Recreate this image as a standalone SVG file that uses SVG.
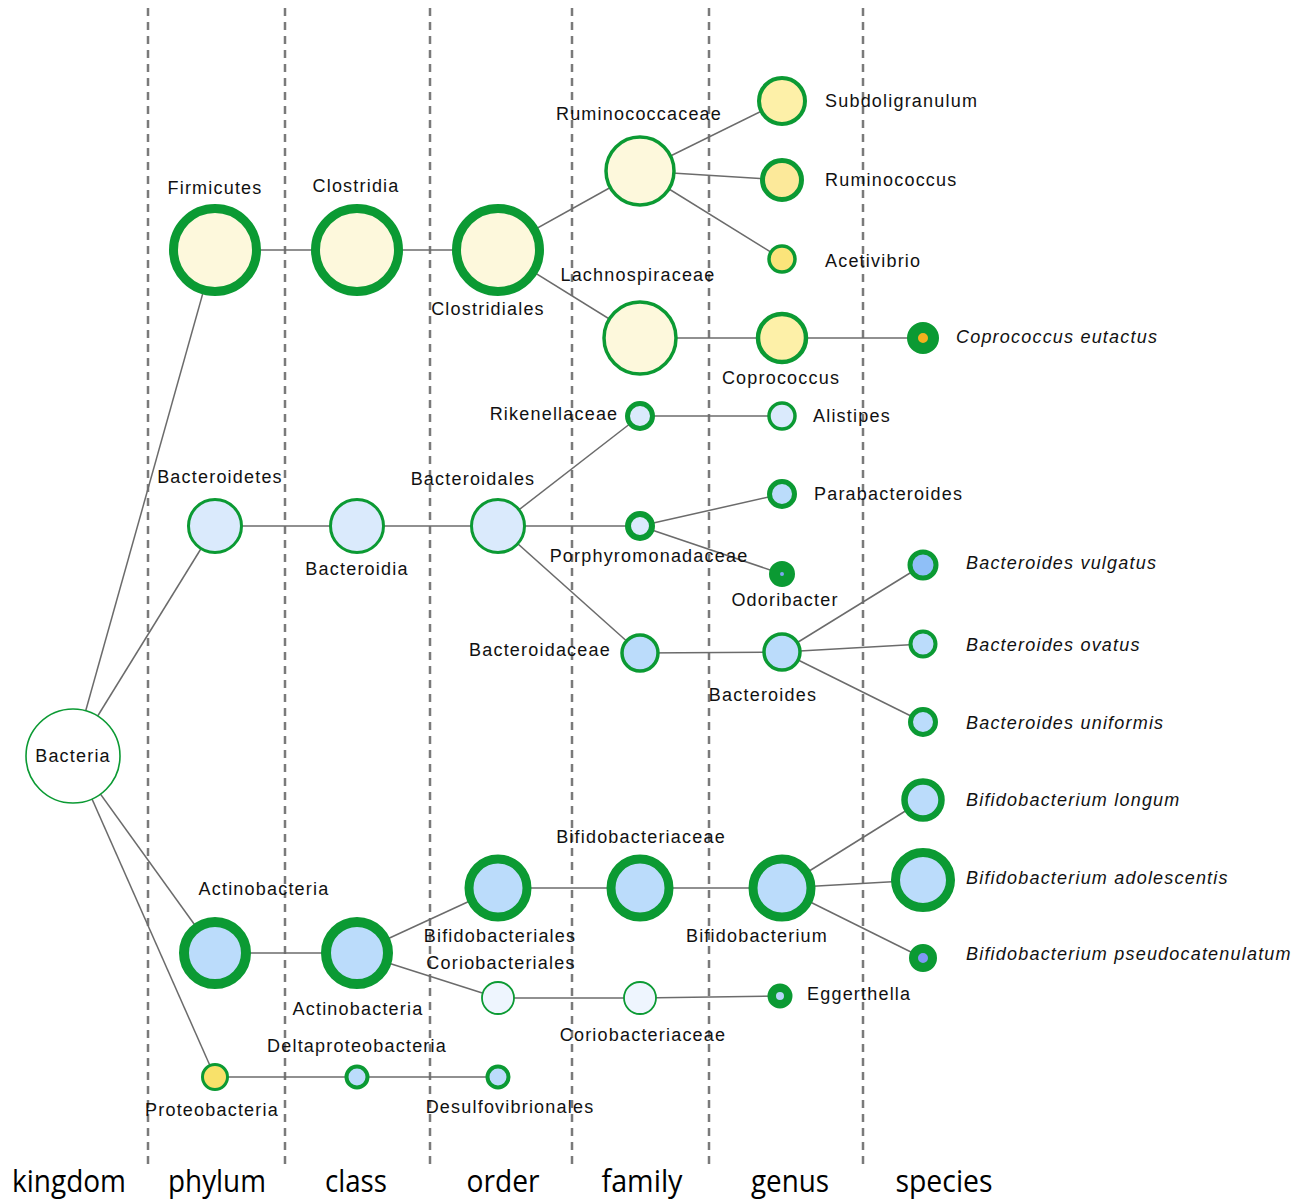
<svg xmlns="http://www.w3.org/2000/svg" width="1311" height="1200" viewBox="0 0 1311 1200">
<style>
.grid{stroke:#7a7a7a;stroke-width:2.5;stroke-dasharray:8 6;fill:none}
.e{stroke:#6b6b6b;stroke-width:1.5;fill:none}
.n{stroke:#0b9a33}
.cream{fill:#fdf8dc}
.y1{fill:#fdf0a8}
.y2{fill:#fce99a}
.y3{fill:#fbe47a}
.b0{fill:#daeafc}
.b1{fill:#bbdcfb}
.b2{fill:#8fbff7}
.bw{fill:#eef5fe}
.t{font-family:"Liberation Sans",Arial,sans-serif;font-size:18px;letter-spacing:1.2px;fill:#111}
.c{text-anchor:middle}
.i{font-style:italic}
.ax{font-family:"Open Sans","Noto Sans",sans-serif;font-size:31px;fill:#000;text-anchor:middle}
</style>
<rect width="1311" height="1200" fill="#fff"/>
<g id="grid">
<line class="grid" x1="148" y1="8" x2="148" y2="1164"/>
<line class="grid" x1="285" y1="8" x2="285" y2="1164"/>
<line class="grid" x1="430" y1="8" x2="430" y2="1164"/>
<line class="grid" x1="572" y1="8" x2="572" y2="1164"/>
<line class="grid" x1="709" y1="8" x2="709" y2="1164"/>
<line class="grid" x1="863" y1="8" x2="863" y2="1164"/>
</g>
<g id="axis">
<text class="ax" x="69" y="1192" textLength="114" lengthAdjust="spacingAndGlyphs">kingdom</text>
<text class="ax" x="217" y="1192" textLength="98" lengthAdjust="spacingAndGlyphs">phylum</text>
<text class="ax" x="356" y="1192" textLength="62" lengthAdjust="spacingAndGlyphs">class</text>
<text class="ax" x="503" y="1192" textLength="73" lengthAdjust="spacingAndGlyphs">order</text>
<text class="ax" x="642" y="1192" textLength="81" lengthAdjust="spacingAndGlyphs">family</text>
<text class="ax" x="790" y="1192" textLength="78" lengthAdjust="spacingAndGlyphs">genus</text>
<text class="ax" x="944" y="1192" textLength="97" lengthAdjust="spacingAndGlyphs">species</text>
</g>
<g id="connectors">
<line class="e" x1="73" y1="756" x2="215" y2="250"/>
<line class="e" x1="73" y1="756" x2="215" y2="526"/>
<line class="e" x1="73" y1="756" x2="215" y2="953"/>
<line class="e" x1="73" y1="756" x2="215" y2="1077"/>
<line class="e" x1="215" y1="250" x2="498" y2="250"/>
<line class="e" x1="498" y1="250" x2="640" y2="171"/>
<line class="e" x1="498" y1="250" x2="640" y2="338"/>
<line class="e" x1="640" y1="171" x2="782" y2="101"/>
<line class="e" x1="640" y1="171" x2="782" y2="180"/>
<line class="e" x1="640" y1="171" x2="782" y2="259"/>
<line class="e" x1="640" y1="338" x2="923" y2="338"/>
<line class="e" x1="215" y1="526" x2="640" y2="526"/>
<line class="e" x1="498" y1="526" x2="640" y2="416"/>
<line class="e" x1="498" y1="526" x2="640" y2="653"/>
<line class="e" x1="640" y1="416" x2="782" y2="416"/>
<line class="e" x1="640" y1="526" x2="782" y2="494"/>
<line class="e" x1="640" y1="526" x2="782" y2="574"/>
<line class="e" x1="640" y1="653" x2="782" y2="652"/>
<line class="e" x1="782" y1="652" x2="923" y2="565"/>
<line class="e" x1="782" y1="652" x2="923" y2="644"/>
<line class="e" x1="782" y1="652" x2="923" y2="722"/>
<line class="e" x1="215" y1="953" x2="357" y2="953"/>
<line class="e" x1="357" y1="953" x2="498" y2="888"/>
<line class="e" x1="357" y1="953" x2="498" y2="998"/>
<line class="e" x1="498" y1="888" x2="782" y2="888"/>
<line class="e" x1="782" y1="888" x2="923" y2="800"/>
<line class="e" x1="782" y1="888" x2="923" y2="880"/>
<line class="e" x1="782" y1="888" x2="923" y2="958"/>
<line class="e" x1="498" y1="998" x2="640" y2="998"/>
<line class="e" x1="640" y1="998" x2="780" y2="996"/>
<line class="e" x1="215" y1="1077" x2="498" y2="1077"/>
</g>
<g id="n-bacteria"><circle cx="73" cy="756" r="47" fill="#fff" class="n" stroke-width="1.6"/><text class="t c" x="73" y="762">Bacteria</text></g>
<g id="n-firmicutes"><circle cx="215" cy="250" r="41.5" class="n cream" stroke-width="9"/><text class="t c" x="215" y="194">Firmicutes</text></g>
<g id="n-clostridia"><circle cx="357" cy="250" r="41.5" class="n cream" stroke-width="9"/><text class="t c" x="356" y="192">Clostridia</text></g>
<g id="n-clostridiales"><circle cx="498" cy="250" r="41.5" class="n cream" stroke-width="9"/><text class="t c" x="488" y="315">Clostridiales</text></g>
<g id="n-ruminococcaceae"><circle cx="640" cy="171" r="34" class="n cream" stroke-width="3.5"/><text class="t c" x="639" y="120">Ruminococcaceae</text></g>
<g id="n-lachnospiraceae"><circle cx="640" cy="338" r="36" class="n cream" stroke-width="3.5"/><text class="t c" x="638" y="281">Lachnospiraceae</text></g>
<g id="n-subdoligranulum"><circle cx="782" cy="101" r="23" class="n y1" stroke-width="4"/><text class="t" x="825" y="107">Subdoligranulum</text></g>
<g id="n-ruminococcus"><circle cx="782" cy="180" r="19.5" class="n y2" stroke-width="5"/><text class="t" x="825" y="186">Ruminococcus</text></g>
<g id="n-acetivibrio"><circle cx="782" cy="259" r="13" class="n y3" stroke-width="3.5"/><text class="t" x="825" y="267">Acetivibrio</text></g>
<g id="n-coprococcus"><circle cx="782" cy="338" r="24" class="n y1" stroke-width="4.5"/><text class="t c" x="781" y="384">Coprococcus</text></g>
<g id="n-coprococcus-eutactus"><circle cx="923" cy="338" r="10.5" class="n" fill="#f5b11e" stroke-width="11"/><text class="t i" x="956" y="343">Coprococcus eutactus</text></g>
<g id="n-bacteroidetes"><circle cx="215" cy="526" r="26.5" class="n b0" stroke-width="3"/><text class="t c" x="220" y="483">Bacteroidetes</text></g>
<g id="n-bacteroidia"><circle cx="357" cy="526" r="26.5" class="n b0" stroke-width="3"/><text class="t c" x="357" y="575">Bacteroidia</text></g>
<g id="n-bacteroidales"><circle cx="498" cy="526" r="26.5" class="n b0" stroke-width="3"/><text class="t c" x="473" y="485">Bacteroidales</text></g>
<g id="n-rikenellaceae"><circle cx="640" cy="416" r="12.5" class="n b0" stroke-width="5"/><text class="t c" x="554" y="420">Rikenellaceae</text></g>
<g id="n-porphyromonadaceae"><circle cx="640" cy="526" r="12" class="n b0" stroke-width="6"/><text class="t c" x="649" y="562">Porphyromonadaceae</text></g>
<g id="n-alistipes"><circle cx="782" cy="416" r="13" class="n b0" stroke-width="3.5"/><text class="t" x="813" y="422">Alistipes</text></g>
<g id="n-parabacteroides"><circle cx="782" cy="494" r="12.5" class="n b1" stroke-width="5"/><text class="t" x="814" y="500">Parabacteroides</text></g>
<g id="n-odoribacter"><circle cx="782" cy="574" r="7.5" class="n" fill="#7fa6f2" stroke-width="11"/><text class="t c" x="785" y="606">Odoribacter</text></g>
<g id="n-bacteroidaceae"><circle cx="640" cy="653" r="18" class="n b1" stroke-width="3.5"/><text class="t c" x="540" y="656">Bacteroidaceae</text></g>
<g id="n-bacteroides"><circle cx="782" cy="652" r="18" class="n b1" stroke-width="3.5"/><text class="t c" x="763" y="701">Bacteroides</text></g>
<g id="n-bacteroides-vulgatus"><circle cx="923" cy="565" r="13" class="n b2" stroke-width="5"/><text class="t i" x="966" y="569">Bacteroides vulgatus</text></g>
<g id="n-bacteroides-ovatus"><circle cx="923" cy="644" r="12.5" class="n b1" stroke-width="4"/><text class="t i" x="966" y="651">Bacteroides ovatus</text></g>
<g id="n-bacteroides-uniformis"><circle cx="923" cy="722" r="12.5" class="n b1" stroke-width="5"/><text class="t i" x="966" y="729">Bacteroides uniformis</text></g>
<g id="n-actinobacteria-phylum"><circle cx="215" cy="953" r="31" class="n b1" stroke-width="10"/><text class="t c" x="264" y="895">Actinobacteria</text></g>
<g id="n-actinobacteria-class"><circle cx="357" cy="953" r="31" class="n b1" stroke-width="10"/><text class="t c" x="358" y="1015">Actinobacteria</text></g>
<g id="n-bifidobacteriales"><circle cx="498" cy="888" r="29" class="n b1" stroke-width="9"/><text class="t c" x="500" y="942">Bifidobacteriales</text></g>
<g id="n-bifidobacteriaceae"><circle cx="640" cy="888" r="29" class="n b1" stroke-width="9"/><text class="t c" x="641" y="843">Bifidobacteriaceae</text></g>
<g id="n-bifidobacterium"><circle cx="782" cy="888" r="29" class="n b1" stroke-width="9"/><text class="t c" x="757" y="942">Bifidobacterium</text></g>
<g id="n-bifidobacterium-longum"><circle cx="923" cy="800" r="18.5" class="n b1" stroke-width="6.5"/><text class="t i" x="966" y="806">Bifidobacterium longum</text></g>
<g id="n-bifidobacterium-adolescentis"><circle cx="923" cy="880" r="27.5" class="n b1" stroke-width="9"/><text class="t i" x="966" y="884">Bifidobacterium adolescentis</text></g>
<g id="n-bifidobacterium-pseudocatenulatum"><circle cx="923" cy="958" r="9.5" class="n" fill="#7f98f6" stroke-width="9"/><text class="t i" x="966" y="960">Bifidobacterium pseudocatenulatum</text></g>
<g id="n-coriobacteriales"><circle cx="498" cy="998" r="16" class="n bw" stroke-width="1.8"/><text class="t c" x="501" y="969">Coriobacteriales</text></g>
<g id="n-coriobacteriaceae"><circle cx="640" cy="998" r="16" class="n bw" stroke-width="1.8"/><text class="t c" x="643" y="1041">Coriobacteriaceae</text></g>
<g id="n-eggerthella"><circle cx="780" cy="996" r="8.25" class="n" fill="#b8d6fa" stroke-width="8.5"/><text class="t" x="807" y="1000">Eggerthella</text></g>
<g id="n-proteobacteria"><circle cx="215" cy="1077" r="12.5" class="n" fill="#f8e16a" stroke-width="3"/><text class="t c" x="212" y="1116">Proteobacteria</text></g>
<g id="n-deltaproteobacteria"><circle cx="357" cy="1077" r="10.5" class="n b1" stroke-width="4"/><text class="t c" x="357" y="1052">Deltaproteobacteria</text></g>
<g id="n-desulfovibrionales"><circle cx="498" cy="1077" r="10.5" class="n b1" stroke-width="4"/><text class="t c" x="510" y="1113">Desulfovibrionales</text></g>
</svg>
